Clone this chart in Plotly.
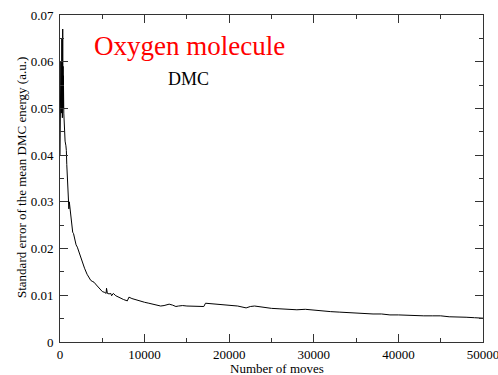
import plotly.graph_objects as go

moves = [0, 20, 40, 60, 80, 100, 120, 140, 160, 180, 200, 220, 240, 260, 280, 300,
         320, 340, 360, 380, 400, 450, 500, 600, 700, 750, 800, 900,
         1000, 1050, 1100, 1150, 1200, 1300, 1400, 1460, 1500, 1600, 1700, 1800, 1900,
         2050, 2200, 2400, 2650, 2900, 3200, 3450, 3630, 3800, 4020, 4300, 4600, 5000,
         5300, 5450, 5500, 5600, 5800, 6000, 6100, 6300, 6600, 7000, 7500, 7960, 8150,
         8500, 9000, 9500, 10000, 10500, 11000, 11500, 11900, 12300, 12900, 13300, 13700,
         14000, 14500, 15000, 16000, 17000, 17200, 18000, 19000, 20000, 21000, 22000,
         22500, 23000, 24000, 25000, 26000, 27000, 28000, 29000, 30000, 31000, 32000,
         33000, 34000, 35000, 36000, 37000, 38000, 39000, 40000, 41000, 42000, 43000,
         44000, 45000, 46000, 47000, 48000, 49000, 50000]

std_err = [0.040, 0.052, 0.046, 0.058, 0.051, 0.060, 0.056, 0.059, 0.049, 0.062, 0.057,
           0.065, 0.055, 0.060, 0.048, 0.058, 0.067, 0.056, 0.059, 0.050, 0.057,
           0.049, 0.046, 0.043, 0.042, 0.041, 0.038, 0.034,
           0.031, 0.0285, 0.0300, 0.0292, 0.0280, 0.0262, 0.0245, 0.0240, 0.0235, 0.0232, 0.0222,
           0.0215, 0.0208, 0.0203, 0.0195, 0.0180, 0.0169, 0.0158, 0.0145, 0.0137, 0.0132,
           0.0130, 0.0128, 0.0122, 0.0115, 0.0108, 0.0106, 0.0104, 0.0115, 0.0104, 0.0103,
           0.0104, 0.0099, 0.0104, 0.0099, 0.0095, 0.0091, 0.0088, 0.0096, 0.0093, 0.0090,
           0.0087, 0.0085, 0.0083, 0.0081, 0.0079, 0.0077, 0.0078, 0.0081, 0.0079, 0.0076,
           0.0077, 0.0078, 0.0077, 0.0077, 0.0076, 0.0083, 0.0082, 0.0080, 0.0079, 0.0077,
           0.0073, 0.0076, 0.0077, 0.0074, 0.0072, 0.0071, 0.0070, 0.0069, 0.0070, 0.0068,
           0.0067, 0.0065, 0.0064, 0.0063, 0.0062, 0.0060, 0.0060, 0.0060, 0.0058, 0.0058,
           0.0057, 0.0057, 0.0056, 0.0056, 0.0056, 0.0054, 0.0054, 0.0053, 0.0052, 0.0051]

x_ticks = [0, 10000, 20000, 30000, 40000, 50000]
y_ticks = [0, 0.01, 0.02, 0.03, 0.04, 0.05, 0.06, 0.07]
y_tick_labels = ["0", "0.01", "0.02", "0.03", "0.04", "0.05", "0.06", "0.07"]

title_text = "Oxygen molecule"
subtitle_text = "DMC"
x_title = "Number of moves"
y_title = "Standard error of the mean DMC energy (a.u.)"

serif = "Times New Roman, Liberation Serif, Tinos, Times, DejaVu Serif, serif"

fig = go.Figure()
fig.add_trace(go.Scatter(x=moves, y=std_err, mode="lines",
                         line=dict(color="black", width=1), showlegend=False))

axis_common = dict(
    showgrid=False, zeroline=False, showline=True, linecolor="#333333", linewidth=1,
    mirror="allticks", ticks="inside", ticklen=8, tickcolor="#333333", tickwidth=1,
    tickfont=dict(family=serif, size=13, color="black"),
    ticklabeloverflow="allow", automargin=False,
)

fig.update_layout(
    width=498, height=375,
    margin=dict(l=60, r=15, t=15, b=33),
    paper_bgcolor="white", plot_bgcolor="white",
    font=dict(family=serif),
    xaxis=dict(range=[0, 50000], tickvals=x_ticks, ticktext=[str(v) for v in x_ticks],
               minor=dict(tickmode="linear", tick0=0, dtick=5000, ticklen=4,
                          ticks="inside", tickcolor="#333333"),
               ticklabelstandoff=0,
               **axis_common),
    yaxis=dict(range=[0, 0.07], tickvals=y_ticks, ticktext=y_tick_labels,
               minor=dict(tickmode="linear", tick0=0, dtick=0.005, ticklen=4,
                          ticks="inside", tickcolor="#333333"),
               ticklabelstandoff=3,
               **axis_common),
    annotations=[
        dict(text=title_text, xref="paper", yref="paper", x=(189 - 60) / 423, y=(342 - 46) / 327,
             showarrow=False, xanchor="center", yanchor="middle",
             font=dict(family=serif, size=27, color="red")),
        dict(text=subtitle_text, xref="paper", yref="paper", x=(188 - 60) / 423, y=(342 - 79) / 327,
             showarrow=False, xanchor="center", yanchor="middle",
             font=dict(family=serif, size=18, color="black")),
        dict(text=x_title, xref="paper", yref="paper", x=(276.5 - 60) / 423, y=-(368.5 - 342) / 327,
             showarrow=False, xanchor="center", yanchor="middle",
             font=dict(family=serif, size=13, color="black")),
        dict(text=y_title, xref="paper", yref="paper", x=-(60 - 21) / 423, y=(342 - 178) / 327,
             showarrow=False, xanchor="center", yanchor="middle", textangle=-90,
             font=dict(family=serif, size=13, color="black")),
    ],
)

fig.write_html("out.html")
